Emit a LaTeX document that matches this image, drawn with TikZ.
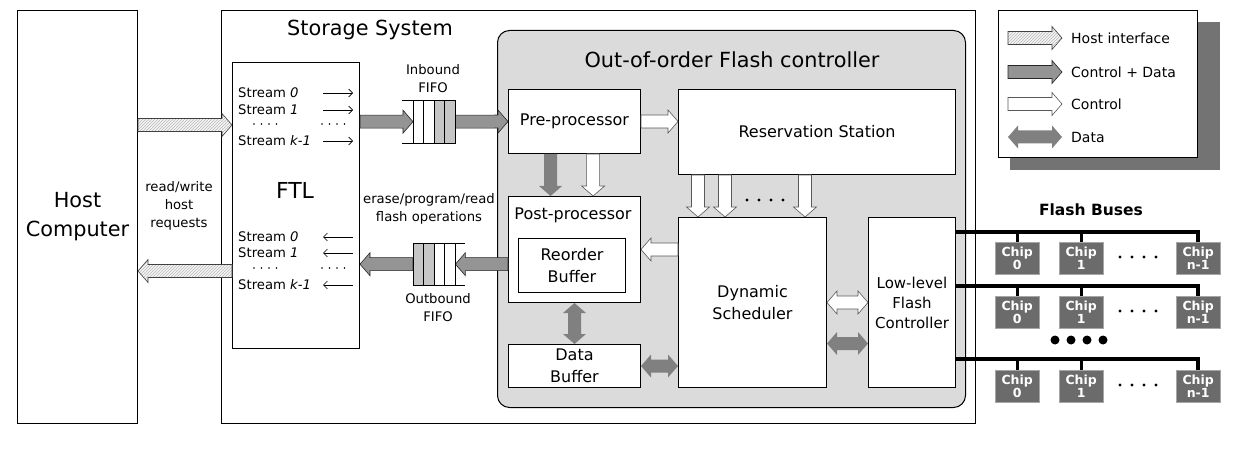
\documentclass[tikz,border=0pt]{standalone}
\usepackage{fontspec}
\setmainfont{DejaVu Sans}
\usetikzlibrary{calc,patterns}

% block arrows between two points (shaft, head width, head length)
\def\shaftw{6.5pt}
\def\headw{11.5pt}
\def\headl{10pt}
\newcommand\blockarrow[3]{%
  \coordinate (ba-s) at (#2);
  \coordinate (ba-e) at (#3);
  \coordinate (ba-h) at ($(ba-e)!\headl!(ba-s)$);
  \path[#1] ($(ba-s)!\shaftw!90:(ba-e)$) -- ($(ba-h)!\shaftw!-90:(ba-s)$)
    -- ($(ba-h)!\headw!-90:(ba-s)$) -- (ba-e) -- ($(ba-h)!\headw!90:(ba-s)$)
    -- ($(ba-h)!\shaftw!90:(ba-s)$) -- ($(ba-s)!\shaftw!-90:(ba-e)$) -- cycle;}
\newcommand\blockdarrow[3]{%
  \coordinate (ba-s) at (#2);
  \coordinate (ba-e) at (#3);
  \coordinate (ba-h1) at ($(ba-s)!\headl!(ba-e)$);
  \coordinate (ba-h2) at ($(ba-e)!\headl!(ba-s)$);
  \path[#1] (ba-s) -- ($(ba-h1)!\headw!90:(ba-e)$) -- ($(ba-h1)!\shaftw!90:(ba-e)$)
    -- ($(ba-h2)!\shaftw!-90:(ba-s)$) -- ($(ba-h2)!\headw!-90:(ba-s)$) -- (ba-e)
    -- ($(ba-h2)!\headw!90:(ba-s)$) -- ($(ba-h2)!\shaftw!90:(ba-s)$)
    -- ($(ba-h1)!\shaftw!-90:(ba-e)$) -- ($(ba-h1)!\headw!-90:(ba-e)$) -- cycle;}

\tikzset{
  box/.style={draw, line width=1pt, fill=white, inner sep=0pt, anchor=north west},
  hostarr/.style={draw=black!75, line width=0.6pt, preaction={fill=gray!8},
    pattern=north east lines, pattern color=gray!55},
  cdarr/.style={draw=black!85, line width=0.6pt, fill=black!42},
  ctrlarr/.style={draw=black!65, line width=0.6pt, fill=white},
  dataarr/.style={fill=black!50},
  chipbox/.style={draw=black!35, fill=black!58, text=white, anchor=north west,
    font=\fontsize{12.5}{13.5}\selectfont\bfseries, minimum width=44pt,
    minimum height=32pt, inner sep=0pt, align=center},
  bus/.style={line width=3.5pt},
  lbl/.style={font=\fontsize{13.2}{18}\selectfont, align=center, inner sep=0pt},
  blbl/.style={font=\fontsize{16}{21.5}\selectfont, align=center, inner sep=0pt},
  title/.style={font=\fontsize{20.8}{29}\selectfont, align=center, inner sep=0pt},
  leglbl/.style={font=\fontsize{14}{16}\selectfont, anchor=west, inner sep=0pt},
  streamarr/.style={line width=0.6pt, -{Straight Barb[length=4pt,width=8pt]}},
}
\usetikzlibrary{arrows.meta}

\begin{document}
\begin{tikzpicture}[x=1pt, y=-1pt]
\useasboundingbox (0,0) rectangle (1235,457);

% Host and storage system
\node[box, minimum width=120pt, minimum height=413pt, title] (host) at (17,10) {Host\\Computer};
\node[box, minimum width=754pt, minimum height=413pt] (storage) at (221,10) {};
\node[title] at (370,30) {Storage System};

% FTL
\node[box, minimum width=127pt, minimum height=286pt] (ftl) at (232,62) {};
\node[title, font=\fontsize{22}{24}\selectfont] at (295,190) {FTL};
\foreach \y/\t in {93/0, 110/1, 141/k-1}{
  \node[lbl, anchor=west] at (238,\y) {Stream \textit{\t}};
  \coordinate (sa\y) at (323,\y);
  \draw[streamarr] (sa\y) -- ++(30,0);
}
\foreach \y/\t in {237/0, 253/1, 285/k-1}{
  \node[lbl, anchor=west] at (238,\y) {Stream \textit{\t}};
  \coordinate (sa\y) at (353,\y);
  \draw[streamarr] (sa\y) -- ++(-30,0);
}
\foreach \y in {124,268}{
  \foreach \i in {0,...,3}{
    \fill (254+\i*7.5,\y) circle (0.9);
    \fill (322+\i*7.5,\y) circle (0.9);
  }
}

% host interface
\coordinate (hin) at ([yshift=-63pt]ftl.north west);
\coordinate (hout) at ([yshift=78pt]ftl.south west);
\blockarrow{hostarr}{host.east |- hin}{hin}
\blockarrow{hostarr}{hout}{host.east |- hout}
\node[lbl] at (179,206) {read/write\\host\\requests};

% Out-of-order controller
\node[box, fill=gray!28, rounded corners=12pt, minimum width=468pt, minimum height=377pt] (ooo) at (497,30) {};
\node[title] at (732,60) {Out-of-order Flash controller};

\node[box, minimum width=132pt, minimum height=64pt, blbl] (pre) at (508,89) {Pre-processor};
\node[box, minimum width=277pt, minimum height=85pt, blbl] (rs) at (678,89) {Reservation Station};
\node[box, minimum width=132pt, minimum height=106pt] (post) at (508,196) {};
\node[blbl] at (573,215) {Post-processor};
\node[box, minimum width=107pt, minimum height=54pt, blbl] (rob) at (518,238) {Reorder\\Buffer};
\node[box, minimum width=132pt, minimum height=43pt, blbl] (dbuf) at (508,344) {Data\\Buffer};
\node[box, minimum width=148pt, minimum height=170pt, blbl] (sched) at (678,217) {Dynamic\\Scheduler};
\node[box, minimum width=87pt, minimum height=170pt, blbl, font=\fontsize{15}{20}\selectfont] (llfc) at (868,217) {Low-level\\Flash\\Controller};

% FIFOs
\node[lbl] at (433,79) {Inbound\\FIFO};
\node[lbl] at (429,209) {erase/program/read\\flash operations};
\node[lbl] at (438,308) {Outbound\\FIFO};
\node[inner sep=0pt, anchor=north west, minimum width=42pt, minimum height=43pt] (infifo) at (413,100) {};
\node[inner sep=0pt, anchor=north west, minimum width=42pt, minimum height=42pt] (outfifo) at (413,243) {};

\blockarrow{cdarr}{ftl.east |- infifo.west}{infifo.west}
\blockarrow{cdarr}{infifo.east}{pre.west}
\blockarrow{cdarr}{post.west |- outfifo.east}{outfifo.east}
\blockarrow{cdarr}{outfifo.west}{ftl.east |- outfifo.west}

\foreach \i/\c in {0/white, 1/white, 2/gray!45, 3/gray!45}
  \draw[line width=0.8pt, fill=\c] (413+\i*10.5,100) rectangle ++(10.5,43);
\draw[line width=0.8pt] (infifo.north west) -- ++(-11,0) (infifo.south west) -- ++(-11,0);
\foreach \i/\c in {0/gray!45, 1/gray!45, 2/white, 3/white}
  \draw[line width=0.8pt, fill=\c] (413+\i*10.5,243) rectangle ++(10.5,42);
\draw[line width=0.8pt] (outfifo.north east) -- ++(10,0) (outfifo.south east) -- ++(10,0);

% arrows inside the controller
\blockarrow{ctrlarr}{pre.east}{rs.west |- pre.east}
\coordinate (pp1) at ($(pre.south west)!0.32!(pre.south east)$);
\coordinate (pp2) at ($(pre.south west)!0.64!(pre.south east)$);
\blockarrow{dataarr}{pp1}{pp1 |- post.north}
\blockarrow{ctrlarr}{pp2}{pp2 |- post.north}
\foreach \dx in {20,47,127}{
  \coordinate (rsd\dx) at ([xshift=\dx pt]sched.north west);
  \blockarrow{ctrlarr}{rsd\dx |- rs.south}{rsd\dx}
}
\foreach \i in {0,...,3} \fill (747+\i*12,200) circle (1.6);
\coordinate (sp) at (sched.west |- post.east);
\blockarrow{ctrlarr}{sp}{post.east}
\blockdarrow{dataarr}{post.south}{dbuf.north}
\blockdarrow{dataarr}{dbuf.east}{sched.west |- dbuf.east}
\blockdarrow{ctrlarr}{sched.east}{llfc.west}
\coordinate (sl) at ([yshift=-41pt]sched.east);
\blockdarrow{dataarr}{sl}{llfc.west |- sl}

% flash buses and chips
\node[font=\fontsize{15.5}{17}\selectfont\bfseries, inner sep=0pt] at (1091,210) {Flash Buses};
\foreach \r/\cy in {1/242, 2/296, 3/370}{
  \foreach \c/\cx/\t in {0/995/0, 1/1059/1, 2/1176/n-1}
    \node[chipbox] (chip\r\c) at (\cx,\cy) {Chip\\\t};
  \foreach \i in {0,...,3} \fill (1120+\i*12,\cy+15) circle (1.6);
}
\foreach \r/\by in {1/232, 2/286, 3/359}{
  \draw[bus] (llfc.east |- 0,\by) -| (chip\r2.north);
  \draw[bus, line width=3pt] (chip\r0.north) -- (chip\r0.north |- 0,\by);
  \draw[bus, line width=3pt] (chip\r1.north) -- (chip\r1.north |- 0,\by);
}
\foreach \i in {0,...,3} \fill (1055+\i*16,340) circle (4.5);

% legend
\fill[black!55] (1010,22) rectangle (1220,170);
\node[box, line width=0.8pt, minimum width=199pt, minimum height=147pt] (legend) at (998,10) {};
\foreach \y/\s/\t [count=\i] in {38/hostarr/Host interface, 72/cdarr/Control + Data, 104/ctrlarr/Control}{
  \coordinate (lga\i) at (1008,\y);
  \coordinate (lgb\i) at (1062,\y);
  \blockarrow{\s}{lga\i}{lgb\i}
  \node[leglbl] at (1071,\y) {\t};
}
\coordinate (lga4) at (1008,137);
\coordinate (lgb4) at (1062,137);
\blockdarrow{dataarr}{lga4}{lgb4}
\node[leglbl] at (1071,137) {Data};
\end{tikzpicture}
\end{document}
